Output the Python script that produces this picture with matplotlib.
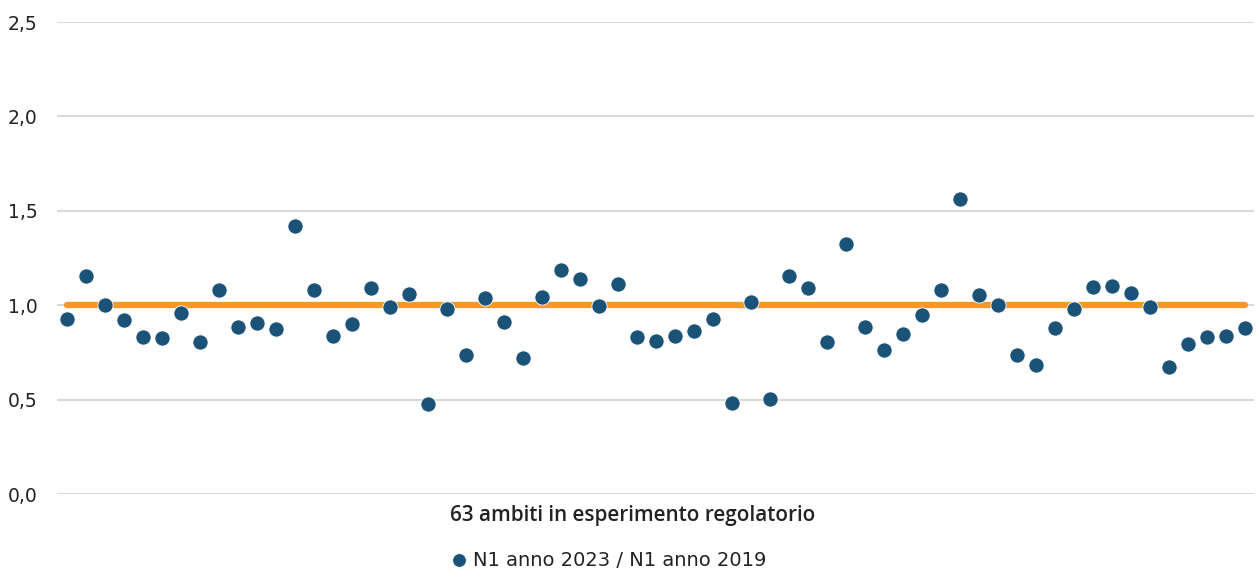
import matplotlib
matplotlib.use("Agg")
import matplotlib.pyplot as plt
import numpy as np

# Data
ratio = [0.927, 1.155, 1.00, 0.92, 0.83, 0.826, 0.959, 0.805, 1.08, 0.885,
         0.906, 0.874, 1.42, 1.08, 0.837, 0.90, 1.09, 0.99, 1.06, 0.477,
         0.98, 0.736, 1.04, 0.911, 0.72, 1.043, 1.186, 1.139, 0.996, 1.112,
         0.83, 0.81, 0.837, 0.863, 0.927, 0.482, 1.017, 0.503, 1.155, 1.09,
         0.805, 1.324, 0.885, 0.763, 0.847, 0.948, 1.08, 1.56, 1.054, 1.00,
         0.736, 0.683, 0.879, 0.98, 1.096, 1.10, 1.065, 0.99, 0.673, 0.795,
         0.83, 0.837, 0.879]
reference = [1.0] * len(ratio)
ambiti = list(range(1, len(ratio) + 1))
y_ticks = [0.0, 0.5, 1.0, 1.5, 2.0, 2.5]
y_tick_labels = ["0,0", "0,5", "1,0", "1,5", "2,0", "2,5"]
series_label = "N1 anno 2023 / N1 anno 2019"
x_title = "63 ambiti in esperimento regolatorio"

plt.rcParams['font.family'] = ['DejaVu Sans']

W, H = 1258, 572
fig = plt.figure(figsize=(W/100, H/100), dpi=100)
ax = fig.add_axes([57/W, 1-494/H, (1254-57)/W, (494-22)/H])

ax.plot(ambiti, reference, color="#F7962B", lw=4.5, solid_capstyle="round", zorder=2)
ax.scatter(ambiti, ratio, s=120, color="#1B5277", edgecolor="white", linewidth=0.6,
           zorder=3, label=series_label)

ax.set_xlim(0.5, len(ratio) + 0.5)
ax.set_ylim(0, 2.5)
ax.set_yticks(y_ticks)
ax.set_yticklabels(y_tick_labels, fontsize=13.5, color="#222222")
ax.set_xticks([])
ax.grid(axis="y", color="#d9d9d9", lw=1.5)
ax.set_axisbelow(True)
for s in ax.spines.values():
    s.set_visible(False)
ax.tick_params(axis="y", length=0, pad=14)

fig.text(633/W, 1-515/H, x_title, ha="center", va="center", fontsize=14.9,
         fontweight="semibold", family=["Open Sans", "DejaVu Sans"], color="#222222")

fig.legend(loc="center", bbox_to_anchor=(608/W, 1-560/H), frameon=False,
           fontsize=14, handlelength=1.0, handletextpad=0.2, markerscale=0.9,
           labelcolor="#222222", borderpad=0, borderaxespad=0)

fig.savefig("out.png", dpi=100)
